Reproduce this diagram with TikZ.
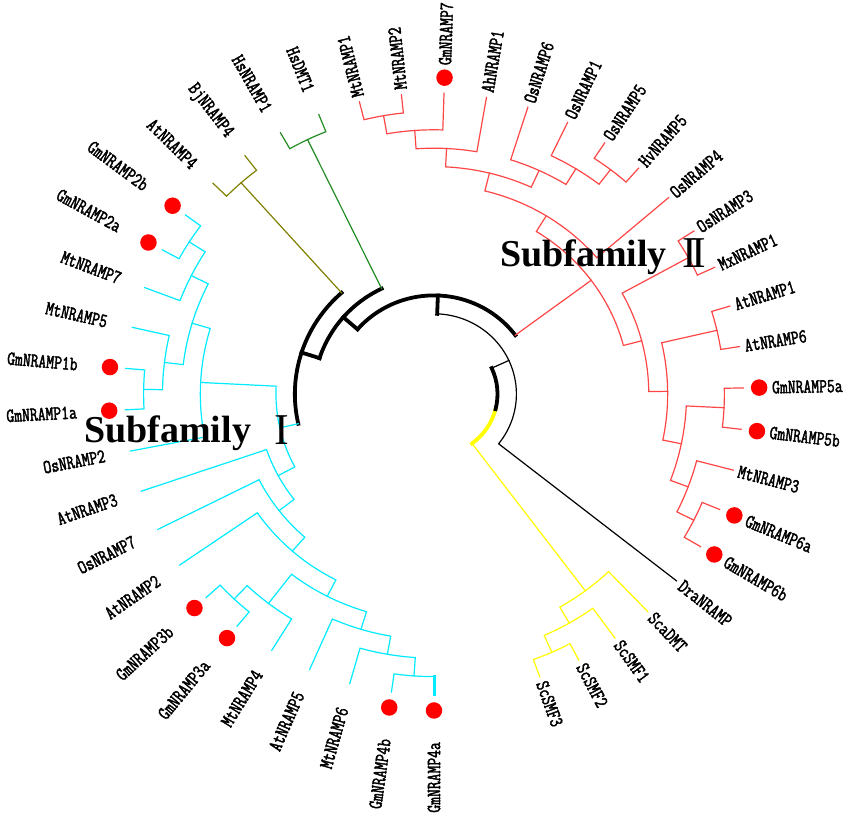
\documentclass[tikz,border=0pt]{standalone}
\usepackage{fontspec}
\setmainfont{Liberation Serif}
\newfontfamily\genefont[FakeStretch=0.76,FakeBold=2]{Latin Modern Mono}
\definecolor{treered}{RGB}{255,70,70}
\definecolor{treecyan}{RGB}{0,235,255}
\definecolor{treegreen}{RGB}{34,139,34}
\definecolor{treeolive}{RGB}{128,128,0}
\definecolor{treeyellow}{RGB}{255,255,0}
\newcommand{\clade}[6][]{\draw[#1] (#3:#4) -- (#3:#2)
  arc[start angle=#3,end angle=#5,radius=#2] -- (#5:#6);}
\newcommand{\geneout}[3]{\node[gene,anchor=west,rotate=#1] (#3) at (#1:#2) {#3};}
\newcommand{\genein}[3]{\node[gene,anchor=east,rotate=#1+180] (#3) at (#1:#2) {#3};}

\begin{document}
\begin{tikzpicture}[x=1pt,y=1pt,xscale=1.0276,line cap=rect,
            branch/.style={line width=1.2pt},
            redline/.style={branch,draw=treered},
            cyanline/.style={branch,draw=treecyan},
            greenline/.style={branch,draw=treegreen},
            oliveline/.style={branch,draw=treeolive},
            yellowline/.style={branch,draw=treeyellow},
            spine/.style={line width=3.8pt},
            gene/.style={font=\genefont\fontsize{20}{20}\selectfont,inner sep=2pt},
            gmdot/.style={circle,fill=red,minimum size=16.5pt,inner sep=0pt},
            subfam/.style={font=\bfseries\fontsize{38}{40}\selectfont,inner sep=0pt,anchor=base west},
            numeral/.style={font=\fontsize{44}{44}\selectfont,inner sep=0pt,anchor=base west}]
  \useasboundingbox (-422.35,-422) rectangle (404.83,394);
  \draw[yellowline] (-53.20:61.8)--(-53.20:245.8);
  \draw[treeyellow,spine] (-53.20:61.8) arc[start angle=-53.20,end angle=-14.24,radius=61.8];
  \draw[spine] (-14.24:61.8) arc[start angle=-14.24,end angle=24.72,radius=61.8];
  \draw[branch] (24.72:61.8)--(24.72:80.2);
  \draw[branch] (-38.37:301)--(-38.37:80.2) arc[start angle=-38.37,end angle=87.80,radius=80.2];
  \draw[spine] (87.80:80.2)--(87.80:98.6);
  \draw[spine] (36.62:98.6) arc[start angle=36.62,end angle=138.99,radius=98.6];
  \draw[spine] (138.99:98.6)--(138.99:117);
  \draw[spine] (115.81:117) arc[start angle=115.81,end angle=162.16,radius=117];
  \draw[spine] (162.16:117)--(162.16:135.4);
  \draw[spine] (131.63:135.4) arc[start angle=131.63,end angle=192.69,radius=135.4];
  \draw[redline] (36.62:98.6)--(36.62:190.6);
  \draw[greenline] (115.81:117)--(115.81:282.6);
  \draw[oliveline] (131.63:135.4)--(131.63:282.6);
  \draw[cyanline] (192.69:135.4)--(192.69:153.8);
  \clade[yellowline]{282.6}{-70}{301}{-62.09}{301}
  \clade[yellowline]{264.2}{-66.05}{282.6}{-54.19}{301}
  \clade[yellowline]{245.8}{-60.12}{264.2}{-46.28}{301}
  \clade[redline]{190.6}{14.75}{209.0}{58.49}{209.0}
  \clade[redline]{209.0}{0.67}{227.4}{28.84}{282.6}
  \clade[redline]{227.4}{-11.69}{245.8}{13.02}{282.6}
  \clade[redline]{245.8}{-20.58}{264.2}{-2.79}{282.6}
  \clade[redline]{264.2}{-26.51}{282.6}{-14.65}{301}
  \clade[redline]{282.6}{-30.47}{301}{-22.56}{301}
  \clade[redline]{282.6}{-6.74}{301}{1.16}{301}
  \clade[redline]{282.6}{9.07}{301}{16.98}{301}
  \clade[redline]{282.6}{24.88}{301}{32.79}{301}
  \clade[redline]{209.0}{40.70}{301}{76.28}{227.4}
  \clade[redline]{227.4}{65.41}{245.8}{87.15}{245.8}
  \clade[redline]{245.8}{58.49}{264.2}{72.33}{301}
  \clade[redline]{264.2}{52.56}{282.6}{64.42}{301}
  \clade[redline]{282.6}{48.60}{301}{56.51}{301}
  \clade[redline]{245.8}{80.23}{301}{94.07}{264.2}
  \clade[redline]{264.2}{88.14}{301}{100}{282.6}
  \clade[redline]{282.6}{96.05}{301}{103.95}{301}
  \clade[greenline]{282.6}{111.86}{301}{119.77}{301}
  \clade[oliveline]{282.6}{127.67}{301}{135.58}{301}
  \clade[cyanline]{153.8}{177.09}{227.4}{208.29}{172.2}
  \clade[cyanline]{227.4}{163.26}{245.8}{190.93}{301}
  \clade[cyanline]{245.8}{153.37}{264.2}{173.14}{264.2}
  \clade[cyanline]{264.2}{147.44}{282.6}{159.30}{301}
  \clade[cyanline]{282.6}{143.49}{301}{151.40}{301}
  \clade[cyanline]{264.2}{167.21}{301}{179.07}{282.6}
  \clade[cyanline]{282.6}{175.12}{301}{183.02}{301}
  \clade[cyanline]{172.2}{198.84}{301}{217.74}{190.6}
  \clade[cyanline]{190.6}{206.74}{301}{228.73}{209.0}
  \clade[cyanline]{209.0}{214.65}{301}{242.82}{227.4}
  \clade[cyanline]{227.4}{232.44}{264.2}{253.20}{245.8}
  \clade[cyanline]{264.2}{226.51}{282.6}{238.37}{301}
  \clade[cyanline]{282.6}{222.56}{301}{230.47}{301}
  \clade[cyanline]{245.8}{246.28}{301}{260.12}{264.2}
  \clade[cyanline]{264.2}{254.19}{301}{266.05}{282.6}
  \clade[cyanline]{282.6}{262.09}{301}{270}{282.6}
  \draw[cyanline,line width=3pt] (270:282.6)--(270:301);
  \node[gmdot] (dot6b) at (-30.47:316.5) {};
  \node[gmdot] (dot6a) at (-22.56:316.5) {};
  \node[gmdot] (dot5b) at (-6.74:316.5) {};
  \node[gmdot] (dot5a) at (1.16:316.5) {};
  \node[gmdot] (dot7) at (88.14:316.5) {};
  \node[gmdot] (dot2b) at (143.49:316.5) {};
  \node[gmdot] (dot2a) at (151.40:316.5) {};
  \node[gmdot] (dot1b) at (175.12:316.5) {};
  \node[gmdot] (dot1a) at (183.02:316.5) {};
  \node[gmdot] (dot3b) at (222.56:316.5) {};
  \node[gmdot] (dot3a) at (230.47:316.5) {};
  \node[gmdot] (dot4b) at (262.09:316.5) {};
  \node[gmdot] (dot4a) at (270:316.5) {};
  \geneout{-70}{304}{ScSMF3}
  \geneout{-62.09}{304}{ScSMF2}
  \geneout{-54.19}{304}{ScSMF1}
  \geneout{-46.28}{304}{ScaDMT}
  \geneout{-38.37}{304}{DraNRAMP}
  \geneout{-30.47}{327}{GmNRAMP6b}
  \geneout{-22.56}{327}{GmNRAMP6a}
  \geneout{-14.65}{304}{MtNRAMP3}
  \geneout{-6.74}{327}{GmNRAMP5b}
  \geneout{1.16}{327}{GmNRAMP5a}
  \geneout{9.07}{304}{AtNRAMP6}
  \geneout{16.98}{304}{AtNRAMP1}
  \geneout{24.88}{304}{MxNRAMP1}
  \geneout{32.79}{304}{OsNRAMP3}
  \geneout{40.70}{304}{OsNRAMP4}
  \geneout{48.60}{304}{HvNRAMP5}
  \geneout{56.51}{304}{OsNRAMP5}
  \geneout{64.42}{304}{OsNRAMP1}
  \geneout{72.33}{304}{OsNRAMP6}
  \geneout{80.23}{304}{AhNRAMP1}
  \geneout{88.14}{327}{GmNRAMP7}
  \geneout{96.05}{304}{MtNRAMP2}
  \geneout{103.95}{304}{MtNRAMP1}
  \genein{111.86}{324}{HsDMT1}
  \genein{119.77}{324}{HsNRAMP1}
  \genein{127.67}{324}{BjNRAMP4}
  \genein{135.58}{324}{AtNRAMP4}
  \genein{143.49}{346}{GmNRAMP2b}
  \genein{151.40}{346}{GmNRAMP2a}
  \genein{159.30}{324}{MtNRAMP7}
  \genein{167.21}{324}{MtNRAMP5}
  \genein{175.12}{346}{GmNRAMP1b}
  \genein{183.02}{346}{GmNRAMP1a}
  \genein{190.93}{324}{OsNRAMP2}
  \genein{198.84}{324}{AtNRAMP3}
  \genein{206.74}{324}{OsNRAMP7}
  \genein{214.65}{324}{AtNRAMP2}
  \genein{222.56}{346}{GmNRAMP3b}
  \genein{230.47}{346}{GmNRAMP3a}
  \genein{238.37}{324}{MtNRAMP4}
  \genein{246.28}{324}{AtNRAMP5}
  \genein{254.19}{324}{MtNRAMP6}
  \genein{262.09}{346}{GmNRAMP4b}
  \genein{270}{346}{GmNRAMP4a}
  \node[subfam] (sub1) at (-340.6,-49) {Subfamily};
  \node[numeral] (num1) at (-155.7,-51) {I};
  \node[subfam] (sub2) at (64.2,127.3) {Subfamily};
  \node[numeral] (num2) at (241.3,126) {I\kern-5pt I};
\end{tikzpicture}
\end{document}
